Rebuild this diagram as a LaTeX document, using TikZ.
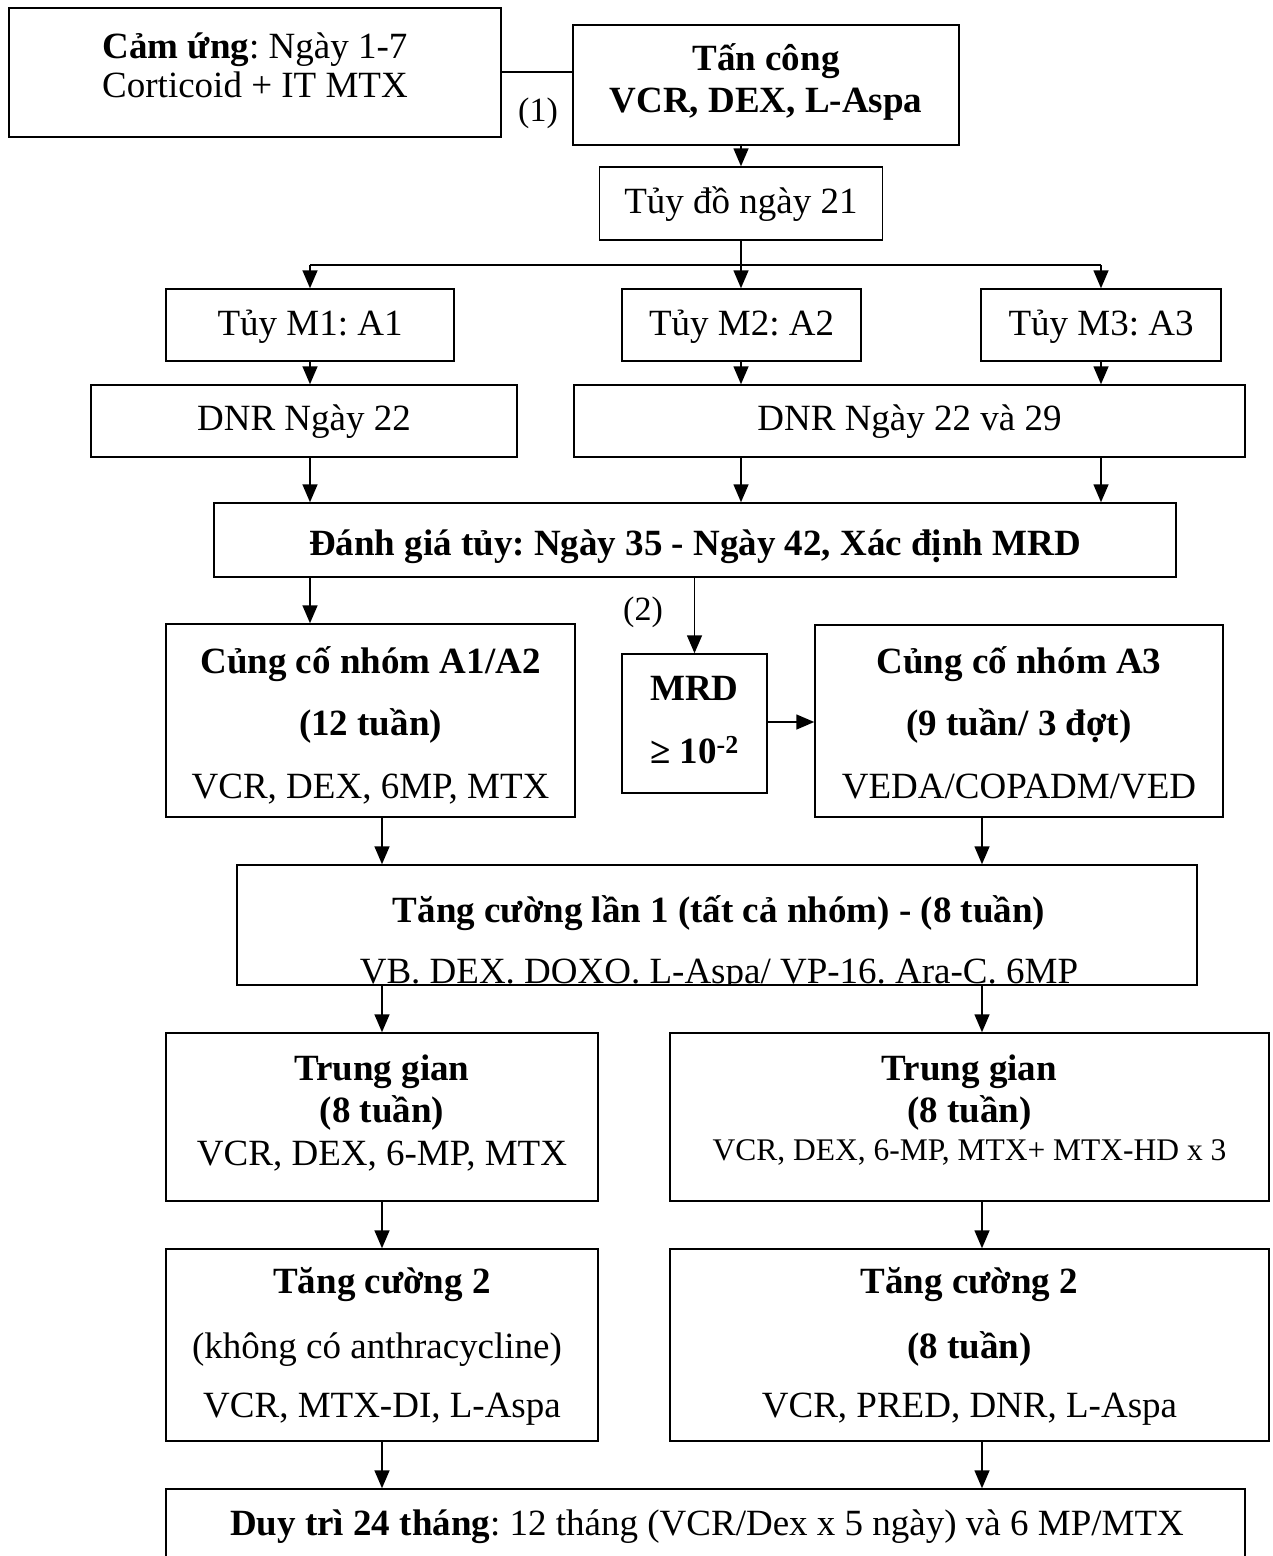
\documentclass[tikz,border=0pt]{standalone}
\usepackage{fontspec}
\setmainfont{Liberation Serif}
\usetikzlibrary{arrows.meta}
\frenchspacing
\begin{document}
\begin{tikzpicture}[x=1pt,y=-1pt,
  box/.style={draw, line width=1.5pt, inner sep=0pt},
  t/.style={anchor=base, inner sep=0pt, font=\fontsize{37}{42}\selectfont},
  tb/.style={anchor=base, inner sep=0pt, font=\fontsize{37}{42}\selectfont\bfseries},
  lbl/.style={anchor=base, inner sep=0pt},
  arr/.style={-{Triangle[length=18pt,width=15pt]}, line width=1.6pt},
  ln/.style={line width=1.6pt}]
\useasboundingbox (0,0) rectangle (1273,1556);

% boxes
\node[box, minimum width=492pt, minimum height=129pt] (cam) at (255,72.5) {};
\node[box, minimum width=386pt, minimum height=120pt] (tan) at (766,85) {};
\node[box, minimum width=283pt, minimum height=73pt] (tuy) at (741,203.5) {};
\node[box, minimum width=288pt, minimum height=72pt] (m1) at (310,325) {};
\node[box, minimum width=239pt, minimum height=72pt] (m2) at (741.5,325) {};
\node[box, minimum width=240pt, minimum height=72pt] (m3) at (1101,325) {};
\node[box, minimum width=426pt, minimum height=72pt] (d1) at (304,421) {};
\node[box, minimum width=671pt, minimum height=72pt] (d2) at (909.5,421) {};
\node[box, minimum width=962pt, minimum height=74pt] (dg) at (695,540) {};
\node[box, minimum width=409pt, minimum height=193pt] (cc1) at (370.5,720.5) {};
\node[box, minimum width=145pt, minimum height=139pt] (mrd) at (694.5,723.5) {};
\node[box, minimum width=408pt, minimum height=192pt] (cc3) at (1019,721) {};
\node[box, minimum width=960pt, minimum height=120pt] (tc1) at (717,925) {};
\node[box, minimum width=432pt, minimum height=168pt] (tg1) at (382,1117) {};
\node[box, minimum width=599pt, minimum height=168pt] (tg2) at (969.5,1117) {};
\node[box, minimum width=432pt, minimum height=192pt] (t21) at (382,1345) {};
\node[box, minimum width=599pt, minimum height=192pt] (t22) at (969.5,1345) {};
\node[box, minimum width=1079pt, minimum height=112pt] (dt) at (705.5,1545) {};

% column coordinates
\coordinate (cL) at (310,0);
\coordinate (cM) at (741,0);
\coordinate (cR) at (1101,0);
\coordinate (kL) at (382,0);
\coordinate (kR) at (982,0);
\coordinate (split) at (741,265);

% texts
\node[lbl, font=\fontsize{37}{42}\selectfont] (camT1) at (255,58) {\textbf{Cảm ứng}: Ngày 1-7};
\node[t] (camT2) at (255,97) {Corticoid + IT MTX};
\node[lbl, font=\fontsize{34}{38}\selectfont] (one) at (538,121) {(1)};
\node[tb] (tanT1) at (766,70) {Tấn công};
\node[tb] (tanT2) at (766,112) {VCR, DEX, L-Aspa};
\node[t] (tuyT) at (741,213) {Tủy đồ ngày 21};
\node[t] (m1T) at (310,335) {Tủy M1: A1};
\node[t] (m2T) at (741.5,335) {Tủy M2: A2};
\node[t] (m3T) at (1101,335) {Tủy M3: A3};
\node[t] (d1T) at (304,430) {DNR Ngày 22};
\node[t] (d2T) at (909.5,430) {DNR Ngày 22 và 29};
\node[tb] (dgT) at (695,555) {Đánh giá tủy: Ngày 35 - Ngày 42, Xác định MRD};
\node[lbl, font=\fontsize{34}{38}\selectfont] (two) at (643,620) {(2)};
\node[tb] (cc1T1) at (370.5,673) {Củng cố nhóm A1/A2};
\node[tb] (cc1T2) at (370.5,735) {(12 tuần)};
\node[t] (cc1T3) at (370.5,798) {VCR, DEX, 6MP, MTX};
\node[tb] (mrdT1) at (694.5,700) {MRD};
\node[tb] (mrdT2) at (694.5,763) {≥ 10\textsuperscript{-2}};
\node[tb] (cc3T1) at (1019,673) {Củng cố nhóm A3};
\node[tb] (cc3T2) at (1019,735) {(9 tuần/ 3 đợt)};
\node[t] (cc3T3) at (1019,798) {VEDA/COPADM/VED};
\node[tb] (tc1T1) at (719,922) {Tăng cường lần 1 (tất cả nhóm) - (8 tuần)};
\begin{scope}
\clip (tc1.south west) rectangle (tc1.north east);
\node[t] (tc1T2) at (719,983) {VB. DEX. DOXO. L-Aspa/ VP-16. Ara-C. 6MP};
\end{scope}
\node[tb] (tg1T1) at (382,1080) {Trung gian};
\node[tb] (tg1T2) at (382,1122) {(8 tuần)};
\node[t] (tg1T3) at (382,1165) {VCR, DEX, 6-MP, MTX};
\node[tb] (tg2T1) at (969.5,1080) {Trung gian};
\node[tb] (tg2T2) at (969.5,1122) {(8 tuần)};
\node[lbl, font=\fontsize{31.5}{36}\selectfont] (tg2T3) at (969.5,1160) {VCR, DEX, 6-MP, MTX+ MTX-HD x 3};
\node[tb] (t21T1) at (382,1293) {Tăng cường 2};
\node[t] (t21T2) at (377,1358) {(không có anthracycline)};
\node[t] (t21T3) at (382,1417) {VCR, MTX-DI, L-Aspa};
\node[tb] (t22T1) at (969.5,1293) {Tăng cường 2};
\node[tb] (t22T2) at (969.5,1358) {(8 tuần)};
\node[t] (t22T3) at (969.5,1417) {VCR, PRED, DNR, L-Aspa};
\node[t] (dtT) at (707,1535) {\textbf{Duy trì 24 tháng}: 12 tháng (VCR/Dex x 5 ngày) và 6 MP/MTX};

% connectors
\draw[ln] (cam.east |- 0,72) -- (tan.west |- 0,72);
\draw[arr] (tan.south -| cM) -- (tuy.north -| cM);
\draw[arr] (tuy.south -| cM) -- (m2.north -| cM);
\draw[ln] (split -| cL) -- (split -| cR);
\draw[arr] (split -| cL) -- (m1.north -| cL);
\draw[arr] (split -| cR) -- (m3.north -| cR);
\draw[arr] (m1.south -| cL) -- (d1.north -| cL);
\draw[arr] (m2.south -| cM) -- (d2.north -| cM);
\draw[arr] (m3.south -| cR) -- (d2.north -| cR);
\draw[arr] (d1.south -| cL) -- (dg.north -| cL);
\draw[arr] (d2.south -| cM) -- (dg.north -| cM);
\draw[arr] (d2.south -| cR) -- (dg.north -| cR);
\draw[arr] (dg.south -| cL) -- (cc1.north -| cL);
\draw[arr] (dg.south -| mrd.north) -- (mrd.north);
\draw[arr] (mrd.east |- 0,722) -- (cc3.west |- 0,722);
\draw[arr] (cc1.south -| kL) -- (tc1.north -| kL);
\draw[arr] (cc3.south -| kR) -- (tc1.north -| kR);
\draw[arr] (tc1.south -| kL) -- (tg1.north -| kL);
\draw[arr] (tc1.south -| kR) -- (tg2.north -| kR);
\draw[arr] (tg1.south -| kL) -- (t21.north -| kL);
\draw[arr] (tg2.south -| kR) -- (t22.north -| kR);
\draw[arr] (t21.south -| kL) -- (dt.north -| kL);
\draw[arr] (t22.south -| kR) -- (dt.north -| kR);
\end{tikzpicture}
\end{document}
